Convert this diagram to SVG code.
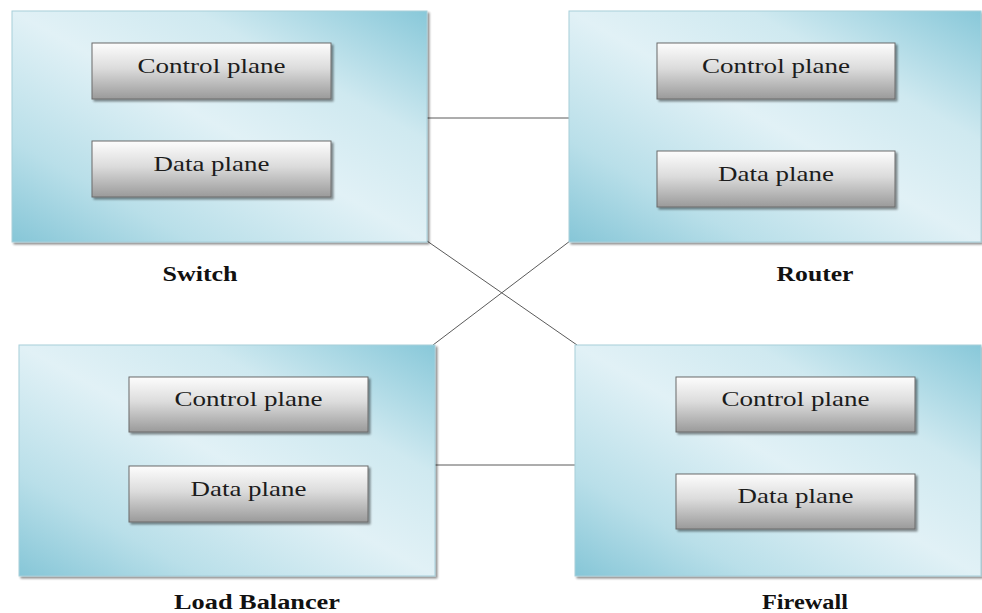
<svg xmlns="http://www.w3.org/2000/svg" width="982" height="613" viewBox="0 0 982 613">
  <defs>
    <!-- device panel: darker teal at bottom-left and top-right corners, pale across the middle -->
    <linearGradient id="panelFill" x1="0" y1="1" x2="1" y2="0">
      <stop offset="0" stop-color="#86c6d7"/>
      <stop offset="0.22" stop-color="#b9dfe9"/>
      <stop offset="0.5" stop-color="#e1f1f6"/>
      <stop offset="0.72" stop-color="#cfe9f0"/>
      <stop offset="1" stop-color="#88c8d9"/>
    </linearGradient>
    <!-- plane block: white top fading to grey bottom -->
    <linearGradient id="planeFill" x1="0" y1="0" x2="0" y2="1">
      <stop offset="0" stop-color="#fdfdfd"/>
      <stop offset="0.45" stop-color="#dcdcdc"/>
      <stop offset="1" stop-color="#9a9a9a"/>
    </linearGradient>
    <filter id="softShadow" x="-5%" y="-10%" width="115%" height="130%">
      <feGaussianBlur in="SourceAlpha" stdDeviation="1.2"/>
      <feOffset dx="1.5" dy="2" result="b"/>
      <feComponentTransfer><feFuncA type="linear" slope="0.45"/></feComponentTransfer>
      <feMerge><feMergeNode/><feMergeNode in="SourceGraphic"/></feMerge>
    </filter>
  </defs>
  <style>
    .panel { fill: url(#panelFill); stroke: #a7cfda; stroke-width: 1; filter: url(#softShadow); }
    .plane { fill: url(#planeFill); stroke: #6a6a6a; stroke-width: 1; filter: url(#softShadow); }
    .planeText { font-family: "Liberation Serif", "DejaVu Serif", serif; font-size: 21px; fill: #1c1c1c; text-anchor: middle; }
    .deviceText { font-family: "Liberation Serif", "DejaVu Serif", serif; font-size: 20px; font-weight: bold; fill: #111; text-anchor: middle; }
    .link { stroke: #5a5a5a; stroke-width: 1; fill: none; }
  </style>

  <rect width="982" height="613" fill="#ffffff"/>

  <!-- links between the four devices -->
  <g id="connectors">
    <line class="link" x1="427" y1="118" x2="569" y2="118"/>
    <line class="link" x1="435" y1="465" x2="575" y2="465"/>
    <line class="link" x1="427" y1="241" x2="577" y2="345"/>
    <line class="link" x1="570" y1="241" x2="433" y2="345"/>
  </g>

  <g id="switch">
    <rect class="panel" x="12" y="11" width="415" height="231"/>
    <rect class="plane" x="92" y="43" width="239" height="56"/>
    <text class="planeText" x="211.5" y="73" textLength="148" lengthAdjust="spacingAndGlyphs">Control plane</text>
    <rect class="plane" x="92" y="141" width="239" height="56"/>
    <text class="planeText" x="211.5" y="171" textLength="116" lengthAdjust="spacingAndGlyphs">Data plane</text>
    <text class="deviceText" x="200" y="281" textLength="75" lengthAdjust="spacingAndGlyphs">Switch</text>
  </g>

  <g id="router">
    <rect class="panel" x="569" y="11" width="412" height="231"/>
    <rect class="plane" x="657" y="43" width="238" height="56"/>
    <text class="planeText" x="776" y="73" textLength="148" lengthAdjust="spacingAndGlyphs">Control plane</text>
    <rect class="plane" x="657" y="151" width="238" height="56"/>
    <text class="planeText" x="776" y="181" textLength="116" lengthAdjust="spacingAndGlyphs">Data plane</text>
    <text class="deviceText" x="815" y="281" textLength="77" lengthAdjust="spacingAndGlyphs">Router</text>
  </g>

  <g id="load-balancer">
    <rect class="panel" x="19" y="345" width="416" height="231"/>
    <rect class="plane" x="129" y="377" width="239" height="55"/>
    <text class="planeText" x="248.5" y="406" textLength="148" lengthAdjust="spacingAndGlyphs">Control plane</text>
    <rect class="plane" x="129" y="466" width="239" height="56"/>
    <text class="planeText" x="248.5" y="496" textLength="116" lengthAdjust="spacingAndGlyphs">Data plane</text>
    <text class="deviceText" x="257" y="609" textLength="166" lengthAdjust="spacingAndGlyphs">Load Balancer</text>
  </g>

  <g id="firewall">
    <rect class="panel" x="575" y="345" width="406" height="231"/>
    <rect class="plane" x="676" y="377" width="239" height="55"/>
    <text class="planeText" x="795.5" y="406" textLength="148" lengthAdjust="spacingAndGlyphs">Control plane</text>
    <rect class="plane" x="676" y="474" width="239" height="55"/>
    <text class="planeText" x="795.5" y="503" textLength="116" lengthAdjust="spacingAndGlyphs">Data plane</text>
    <text class="deviceText" x="805" y="609" textLength="86" lengthAdjust="spacingAndGlyphs">Firewall</text>
  </g>
</svg>
